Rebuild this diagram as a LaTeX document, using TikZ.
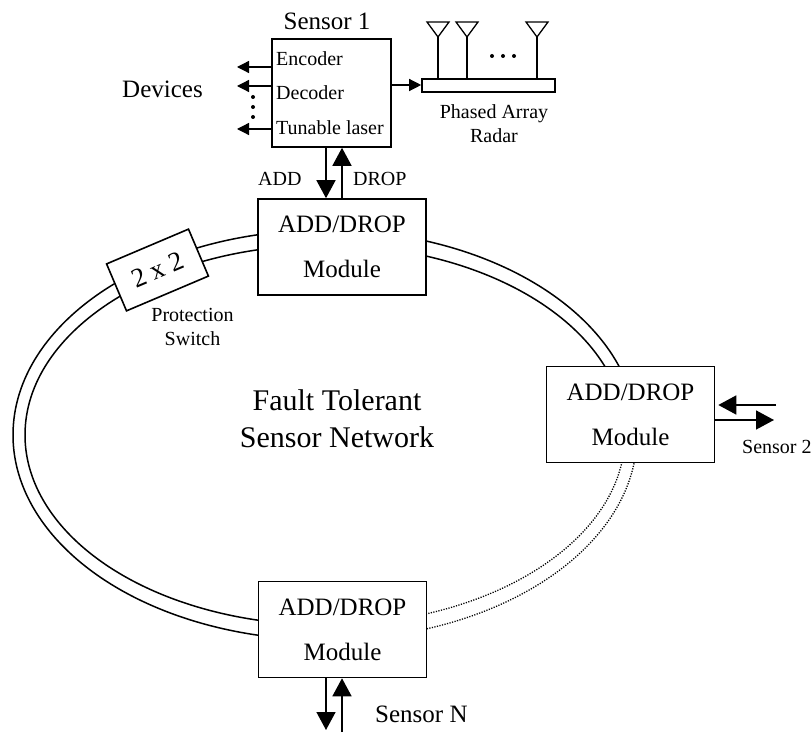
\documentclass[tikz,border=0pt]{standalone}
\usepackage{fontspec}
\setmainfont{Liberation Serif}
\usetikzlibrary{arrows.meta}
\tikzset{
  module/.style    = {shape=rectangle, draw, fill=white, line width=1.6pt, align=center,
                      minimum width=168pt, minimum height=96pt, inner sep=0pt,
                      font=\fontsize{25}{45}\selectfont},
  box/.style       = {shape=rectangle, draw, fill=white, line width=1.6pt, inner sep=0pt},
  biglabel/.style  = {inner sep=0pt, anchor=base west, font=\fontsize{25}{30}\selectfont},
  smalllabel/.style= {inner sep=0pt, anchor=base west, font=\fontsize{20}{24}\selectfont},
  midlabel/.style  = {inner sep=0pt, align=center, font=\fontsize{20}{24}\selectfont},
  fiber/.style     = {line width=1.5pt},
  dotfiber/.style  = {line width=1.3pt, dash pattern=on 1.2pt off 1.4pt},
  bigarrow/.style  = {line width=1.5pt, -{Triangle[length=18pt,width=19pt]}},
  smallarrow/.style= {line width=1.3pt, -{Triangle[length=12pt,width=12pt]}}
}

\begin{document}
\begin{tikzpicture}[x=1pt,y=1pt]
  \useasboundingbox (0,0) rectangle (812,732);
  \coordinate (ring) at (325,297);

  % ring
  \foreach \rx/\ry in {312/205,300/190} {
    \draw[fiber] ([shift={(0:\rx pt and \ry pt)}]ring) arc[start angle=0, end angle=275, x radius=\rx pt, y radius=\ry pt];
    \draw[dotfiber] ([shift={(275:\rx pt and \ry pt)}]ring) arc[start angle=275, end angle=360, x radius=\rx pt, y radius=\ry pt];
  }

  \node [module] (modtop) at (342,485) {ADD/DROP\\Module};
  \node [module] (modright) at (630.5,317.5) {ADD/DROP\\Module};
  \node [module] (modbottom) at (342.5,102.5) {ADD/DROP\\Module};
  \node [box, minimum width=89pt, minimum height=51pt, rotate=23, font=\fontsize{27}{30}\selectfont] (switch) at (157.5,462) {2 x 2};
  \node [midlabel] (switchlabel) at (192.5,405) {Protection\\Switch};
  \node [inner sep=0pt, align=center, font=\fontsize{30}{37}\selectfont] (title) at (337,313) {Fault Tolerant\\Sensor Network};

  % sensor 1
  \node [box, minimum width=119pt, minimum height=108pt] (sensor) at (331.5,639) {};
  \node [biglabel, anchor=base] (sensorlabel) at (327,702) {Sensor 1};
  \node [smalllabel] (encoder) at (276,666) {Encoder};
  \node [smalllabel] (decoder) at (276,632) {Decoder};
  \node [smalllabel] (laser) at (276,597) {Tunable laser};
  \node [biglabel] (devices) at (122,634) {Devices};
  \foreach \n/\y in {a/665,b/646,c/603} {
    \coordinate (dev\n) at (237,\y);
    \draw[smallarrow] (sensor.west |- dev\n) -- (dev\n);
  }
  \foreach \y in {635,625,615}
    \fill (253,\y) circle (2pt);

  % radar
  \node [box, minimum width=133pt, minimum height=13pt] (bar) at (488.5,646.5) {};
  \foreach \x in {438,467,537} {
    \coordinate (ant\x) at (\x,695);
    \draw[line width=1.3pt] (ant\x) -- (ant\x |- bar.north);
    \draw[line width=1.3pt] (ant\x) -- ++(-11,15) -- ++(22,0) -- cycle;
  }
  \foreach \x in {492,503,514}
    \fill (\x,676) circle (2pt);
  \coordinate (radarin) at (400,647);
  \draw[smallarrow] (sensor.east |- radarin) -- (bar.west |- radarin);
  \node [midlabel] (radarlabel) at (494,608) {Phased Array\\Radar};

  % add and drop
  \coordinate (addline) at (326,570);
  \coordinate (dropline) at (342,570);
  \draw[bigarrow] (sensor.south -| addline) -- (modtop.north -| addline);
  \draw[bigarrow] (modtop.north -| dropline) -- (sensor.south -| dropline);
  \node [smalllabel] (addlabel) at (258,546) {ADD};
  \node [smalllabel] (droplabel) at (353,546) {DROP};

  % sensor 2
  \coordinate (intwo) at (776,327);
  \coordinate (outtwo) at (774,312);
  \draw[bigarrow, shorten >=3pt] (intwo) -- (modright.east |- intwo);
  \draw[bigarrow] (modright.east |- outtwo) -- (outtwo);
  \node [smalllabel] (sensortwo) at (742,278) {Sensor 2};

  % sensor N
  \coordinate (downn) at (326,2);
  \coordinate (upn) at (342,0);
  \draw[bigarrow] (modbottom.south -| downn) -- (downn);
  \draw[bigarrow] (upn) -- (modbottom.south -| upn);
  \node [biglabel] (sensorn) at (375,10) {Sensor N};
\end{tikzpicture}
\end{document}
